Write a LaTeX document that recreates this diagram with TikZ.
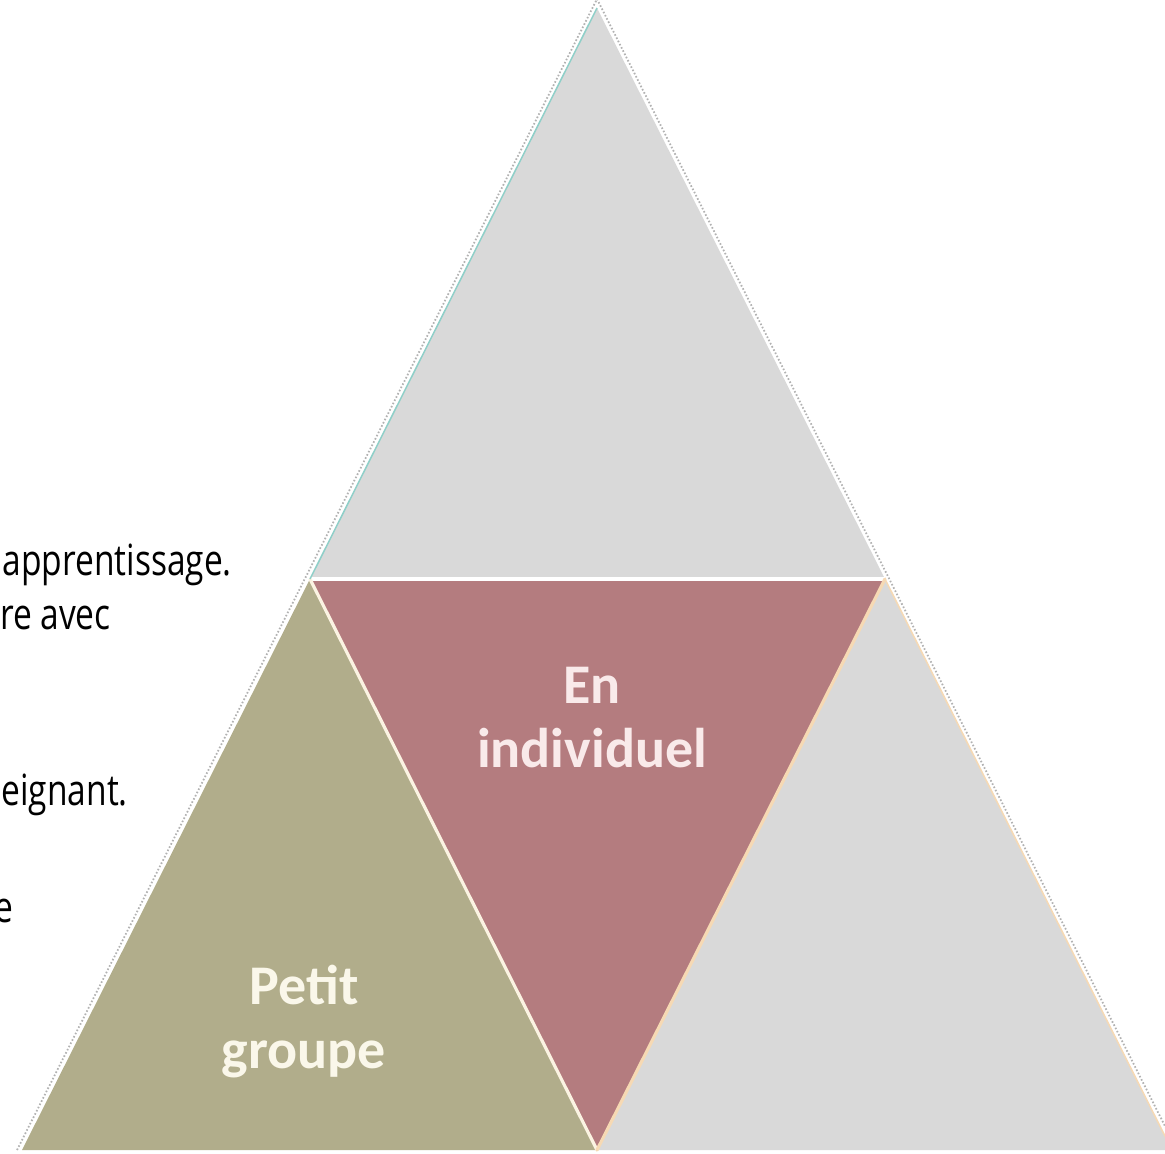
\documentclass[tikz,border=0pt]{standalone}
\usepackage{fontspec}
\setmainfont{Carlito}
\newfontfamily\notefont[FakeStretch=0.78]{Open Sans}
\usetikzlibrary{positioning}
\definecolor{topgray}{HTML}{D9D9D9}
\definecolor{groupfill}{HTML}{B1AD8B}
\definecolor{indivfill}{HTML}{B47C7F}
\definecolor{indivtext}{HTML}{F9EAEA}
\definecolor{grouptext}{HTML}{FAF7EA}
\definecolor{tealedge}{HTML}{8FCFC8}
\definecolor{peachedge}{HTML}{F6D9B4}
\definecolor{creamedge}{HTML}{FBF3E2}

\begin{document}
\begin{tikzpicture}[
		x=1pt, y=-1pt,
		piece/.style    = { line join=round },
		seam/.style     = { line width=3.2pt, line cap=round },
		rim/.style      = { draw=black!30, line width=1.8pt,
			dash pattern=on 1.6pt off 2pt },
		parttext/.style = { font=\fontsize{56}{64}\selectfont\bfseries,
			align=center, text=#1 },
		note/.style     = { font=\notefont\fontsize{43}{52}\selectfont,
			anchor=base east, inner sep=0pt },
		]
		\useasboundingbox (0,0) rectangle (1165,1154);
		\clip (0,0) rectangle (1165,1154);
		% corners of the big triangle and of its four parts
		\coordinate (apex) at (597,8);
		\coordinate (ml) at (310,579);
		\coordinate (mr) at (885,579);
		\coordinate (bl) at (22,1150);
		\coordinate (bm) at (597,1150);
		\coordinate (br) at (1172,1150);
		% the four parts
		\fill[piece, topgray]   (apex) -- (ml) -- (mr) -- cycle;
		\fill[piece, groupfill] (ml) -- (bl) -- (bm) -- cycle;
		\fill[piece, indivfill] (ml) -- (mr) -- (bm) -- cycle;
		\fill[piece, topgray]   (mr) -- (bm) -- (br) -- cycle;
		% seams between the parts
		\draw[seam, white]      (ml) -- (mr);
		\draw[seam, creamedge]  (ml) -- (bm);
		\draw[seam, peachedge]  (mr) -- (bm);
		\draw[tealedge, line width=1.5pt] (apex) -- (ml);
		\draw[peachedge, line width=1.5pt] (mr) -- (br);
		% dotted outline round the outside
		\draw[rim] ([xshift=-5pt]bl) -- ([yshift=9pt]apex) -- ([xshift=5pt]br);
		% labels in the parts
		\node[parttext=indivtext] (indiv) at (592,718) {En\\individuel};
		\node[parttext=grouptext] (group) at (304,1022) {Petit\\groupe};
		% text cut off at the left edge
		\node[note] (learn) at (232,575) {apprentissage.};
		\node[note] (with)  at (111,629) {re avec};
		\node[note] (teach) at (128,805) {eignant.};
		\node[note] (last)  at (14,922)  {e};
\end{tikzpicture}
\end{document}
